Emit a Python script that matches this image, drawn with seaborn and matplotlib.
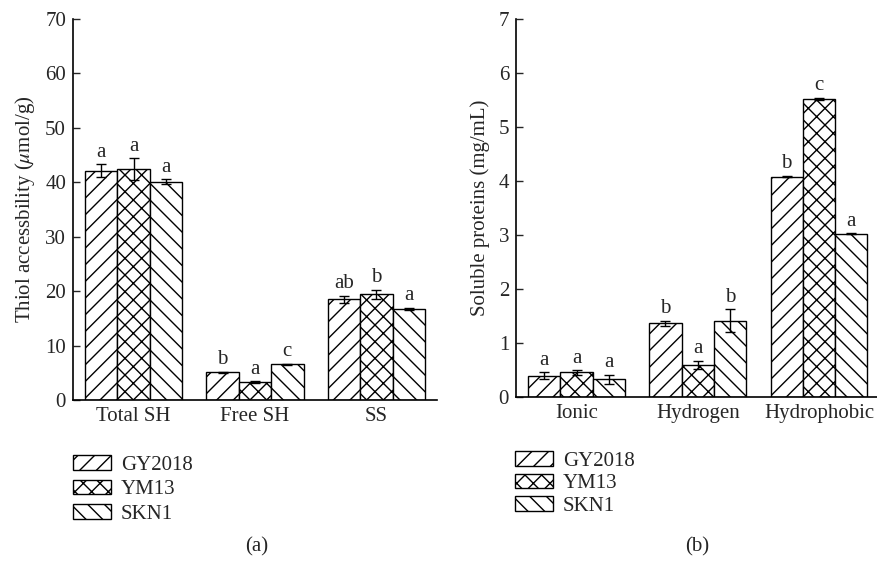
"""Thiol accessibility and soluble protein fractions for three wheat varieties."""

import matplotlib.pyplot as plt
import pandas as pd
import seaborn as sns
from matplotlib.patches import Patch

varieties = ["GY2018", "YM13", "SKN1"]
hatches = ["//", "xx", "\\\\"]

# (a) thiol accessibility, umol/g
thiol_groups = ["Total SH", "Free SH", "SS"]
thiol_gy2018 = [42.1, 5.1, 18.5]
thiol_ym13 = [42.4, 3.3, 19.4]
thiol_skn1 = [40.1, 6.6, 16.7]
thiol_err_gy2018 = [1.2, 0.1, 0.6]
thiol_err_ym13 = [2.0, 0.1, 0.9]
thiol_err_skn1 = [0.45, 0.1, 0.2]
thiol_letters_gy2018 = ["a", "b", "ab"]
thiol_letters_ym13 = ["a", "a", "b"]
thiol_letters_skn1 = ["a", "c", "a"]

# (b) soluble proteins, mg/mL
prot_groups = ["Ionic", "Hydrogen", "Hydrophobic"]
prot_gy2018 = [0.39, 1.36, 4.08]
prot_ym13 = [0.45, 0.59, 5.52]
prot_skn1 = [0.32, 1.41, 3.02]
prot_err_gy2018 = [0.06, 0.04, 0.01]
prot_err_ym13 = [0.04, 0.07, 0.02]
prot_err_skn1 = [0.08, 0.21, 0.01]
prot_letters_gy2018 = ["a", "b", "b"]
prot_letters_ym13 = ["a", "a", "c"]
prot_letters_skn1 = ["a", "b", "a"]

FS = 15


def long_form(groups, series):
    rows = []
    for variety, values in zip(varieties, series):
        for group, value in zip(groups, values):
            rows.append({"group": group, "variety": variety, "value": value})
    return pd.DataFrame(rows)


def draw_panel(ax, groups, series, errors, letters, ylim, yticks, ylabel):
    df = long_form(groups, series)
    sns.barplot(
        data=df, x="group", y="value", hue="variety", order=groups,
        hue_order=varieties, palette=["white"] * 3, edgecolor="black",
        linewidth=1.0, errorbar=None, legend=False, ax=ax,
    )
    for container, hatch, errs, labs in zip(ax.containers, hatches, errors, letters):
        for bar, err, lab in zip(container, errs, labs):
            bar.set_hatch(hatch)
            x = bar.get_x() + bar.get_width() / 2
            top = bar.get_height()
            ax.errorbar(
                x, top, yerr=err, color="black", elinewidth=1.0,
                capsize=3.5, capthick=1.0, zorder=5,
            )
            ax.annotate(
                lab, (x, top + err), xytext=(0, 2), textcoords="offset points",
                ha="center", va="bottom", fontsize=FS,
            )
    ax.set_xlim(-0.5, 2.5)
    ax.set_ylim(*ylim)
    ax.set_yticks(yticks)
    ax.set_xlabel("")
    ax.set_ylabel(ylabel, fontsize=FS, labelpad=6)
    sns.despine(ax=ax)
    for side in ["left", "bottom"]:
        ax.spines[side].set_linewidth(1.2)
        ax.spines[side].set_color("black")
    ax.tick_params(axis="y", direction="in", length=5, width=1.0, labelsize=FS, pad=5)
    ax.tick_params(axis="x", length=0, labelsize=FS, pad=5)


sns.set_theme(style="ticks")
plt.rcParams["font.family"] = ["Liberation Serif", "DejaVu Serif"]
plt.rcParams["mathtext.fontset"] = "stix"
plt.rcParams["hatch.linewidth"] = 1.0
plt.rcParams["hatch.color"] = "black"

fig = plt.figure(figsize=(8.77, 5.74), dpi=100)
ax_a = fig.add_axes([73 / 877, 1 - 400 / 574, 364 / 877, 381 / 574])
ax_b = fig.add_axes([516 / 877, 1 - 396.7 / 574, 363.6 / 877, 377.4 / 574])

draw_panel(
    ax_a, thiol_groups,
    [thiol_gy2018, thiol_ym13, thiol_skn1],
    [thiol_err_gy2018, thiol_err_ym13, thiol_err_skn1],
    [thiol_letters_gy2018, thiol_letters_ym13, thiol_letters_skn1],
    (0, 70), range(0, 71, 10), r"Thiol accessbility ($\mu$mol/g)",
)
draw_panel(
    ax_b, prot_groups,
    [prot_gy2018, prot_ym13, prot_skn1],
    [prot_err_gy2018, prot_err_ym13, prot_err_skn1],
    [prot_letters_gy2018, prot_letters_ym13, prot_letters_skn1],
    (0, 7), range(0, 8), "Soluble proteins (mg/mL)",
)

handles = [
    Patch(facecolor="white", edgecolor="black", hatch=h, linewidth=1.0)
    for h in hatches
]
for x0, y0, spacing in [(73 / 877, 1 - 455 / 574, 0.24), (515 / 877, 1 - 451 / 574, 0.14)]:
    fig.legend(
        handles, varieties, loc="upper left", bbox_to_anchor=(x0, y0),
        frameon=False, fontsize=FS, handlelength=1.8, handleheight=0.7,
        labelspacing=spacing, handletextpad=0.5, borderpad=0, borderaxespad=0,
    )

fig.text(257 / 877, 1 - 547 / 574, "(a)", ha="center", va="center", fontsize=FS)
fig.text(697 / 877, 1 - 547 / 574, "(b)", ha="center", va="center", fontsize=FS)

fig.savefig("out.png", dpi=100)
